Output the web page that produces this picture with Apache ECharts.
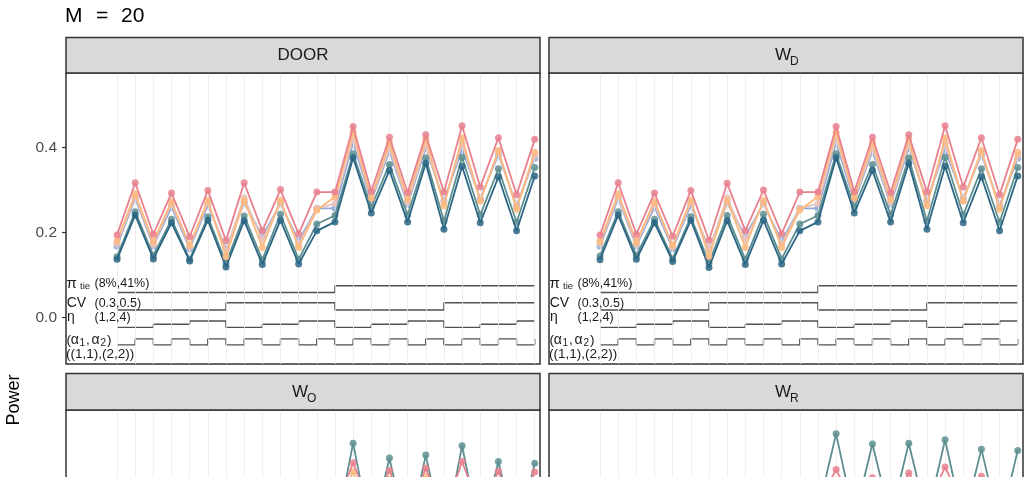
<!DOCTYPE html>
<html>
<head>
<meta charset="utf-8">
<script src="https://cdn.jsdelivr.net/npm/echarts@6/dist/echarts.min.js"></script>
<style>
  html, body { margin: 0; padding: 0; background: #fff; }
  #chart { width: 1032px; height: 477px; }
</style>
</head>
<body>
<div id="chart"></div>
<script>
// x positions of the 24 scenarios
const positions = [1, 2, 3, 4, 5, 6, 7, 8, 9, 10, 11, 12, 13, 14, 15, 16, 17, 18, 19, 20, 21, 22, 23, 24];

// DOOR
const doorPink   = [0.194, 0.317, 0.196, 0.293, 0.190, 0.299, 0.181, 0.317, 0.204, 0.301, 0.197, 0.295, 0.295, 0.449, 0.297, 0.424, 0.294, 0.430, 0.295, 0.451, 0.307, 0.423, 0.289, 0.419];
const doorOrange = [0.180, 0.291, 0.178, 0.273, 0.170, 0.276, 0.143, 0.276, 0.165, 0.276, 0.165, 0.253, 0.284, 0.436, 0.281, 0.411, 0.278, 0.420, 0.263, 0.422, 0.274, 0.393, 0.255, 0.389];
const doorBeige  = [0.174, 0.285, 0.172, 0.268, 0.166, 0.270, 0.159, 0.282, 0.183, 0.270, 0.172, 0.257, 0.268, 0.422, 0.279, 0.398, 0.271, 0.405, 0.270, 0.409, 0.275, 0.389, 0.260, 0.381];
const doorLav    = [0.168, 0.280, 0.168, 0.260, 0.162, 0.264, 0.163, 0.270, 0.192, 0.268, 0.180, 0.257, 0.257, 0.411, 0.274, 0.391, 0.266, 0.398, 0.275, 0.395, 0.280, 0.383, 0.264, 0.374];
const doorTeal   = [0.143, 0.249, 0.146, 0.231, 0.137, 0.237, 0.128, 0.239, 0.136, 0.243, 0.137, 0.220, 0.240, 0.385, 0.260, 0.360, 0.241, 0.375, 0.227, 0.377, 0.241, 0.350, 0.224, 0.353];
const doorDark   = [0.137, 0.241, 0.138, 0.223, 0.133, 0.229, 0.119, 0.228, 0.125, 0.229, 0.126, 0.204, 0.225, 0.376, 0.246, 0.346, 0.225, 0.363, 0.208, 0.356, 0.223, 0.331, 0.204, 0.333];

// W_D
const wdPink   = [0.194, 0.317, 0.196, 0.293, 0.191, 0.299, 0.182, 0.316, 0.204, 0.300, 0.197, 0.295, 0.295, 0.449, 0.296, 0.424, 0.294, 0.430, 0.295, 0.451, 0.307, 0.423, 0.289, 0.419];
const wdOrange = [0.180, 0.291, 0.178, 0.273, 0.170, 0.276, 0.144, 0.276, 0.165, 0.276, 0.165, 0.253, 0.284, 0.436, 0.281, 0.411, 0.278, 0.420, 0.263, 0.422, 0.274, 0.393, 0.255, 0.389];
const wdBeige  = [0.174, 0.285, 0.172, 0.268, 0.166, 0.270, 0.160, 0.282, 0.183, 0.270, 0.172, 0.257, 0.268, 0.422, 0.279, 0.398, 0.271, 0.405, 0.270, 0.409, 0.275, 0.389, 0.260, 0.381];
const wdLav    = [0.168, 0.280, 0.168, 0.260, 0.162, 0.264, 0.163, 0.270, 0.192, 0.268, 0.180, 0.257, 0.257, 0.411, 0.274, 0.391, 0.266, 0.398, 0.275, 0.395, 0.280, 0.383, 0.264, 0.374];
const wdTeal   = [0.145, 0.249, 0.146, 0.231, 0.138, 0.237, 0.128, 0.240, 0.137, 0.243, 0.138, 0.220, 0.240, 0.385, 0.260, 0.360, 0.242, 0.375, 0.227, 0.377, 0.241, 0.350, 0.224, 0.353];
const wdDark   = [0.136, 0.241, 0.137, 0.223, 0.132, 0.229, 0.118, 0.228, 0.125, 0.229, 0.126, 0.204, 0.225, 0.376, 0.246, 0.346, 0.225, 0.363, 0.208, 0.356, 0.223, 0.331, 0.204, 0.333];

// W_O (lower part is outside the picture, estimated)
const woPink   = [0.19, 0.29, 0.19, 0.27, 0.18, 0.28, 0.17, 0.29, 0.19, 0.28, 0.19, 0.27, 0.34, 0.451, 0.34, 0.433, 0.33, 0.438, 0.33, 0.454, 0.34, 0.431, 0.33, 0.429];
const woOrange = [0.17, 0.27, 0.17, 0.25, 0.16, 0.26, 0.15, 0.26, 0.17, 0.26, 0.17, 0.25, 0.32, 0.430, 0.32, 0.412, 0.31, 0.419, 0.31, 0.410, 0.32, 0.405, 0.31, 0.402];
const woBeige  = [0.16, 0.26, 0.16, 0.24, 0.15, 0.25, 0.15, 0.25, 0.17, 0.25, 0.16, 0.24, 0.30, 0.405, 0.30, 0.390, 0.29, 0.395, 0.29, 0.400, 0.30, 0.385, 0.29, 0.380];
const woLav    = [0.15, 0.25, 0.15, 0.23, 0.15, 0.24, 0.15, 0.24, 0.17, 0.24, 0.16, 0.23, 0.29, 0.390, 0.29, 0.375, 0.28, 0.380, 0.28, 0.385, 0.29, 0.370, 0.28, 0.365];
const woTeal   = [0.20, 0.30, 0.20, 0.28, 0.19, 0.29, 0.18, 0.30, 0.19, 0.29, 0.19, 0.28, 0.28, 0.497, 0.28, 0.462, 0.27, 0.469, 0.27, 0.491, 0.28, 0.454, 0.27, 0.450];
const woDark   = [0.13, 0.23, 0.13, 0.21, 0.13, 0.22, 0.11, 0.22, 0.12, 0.22, 0.12, 0.20, 0.22, 0.360, 0.24, 0.340, 0.22, 0.350, 0.20, 0.345, 0.22, 0.320, 0.20, 0.320];

// W_R (lower part is outside the picture, estimated)
const wrPink   = [0.19, 0.29, 0.19, 0.27, 0.18, 0.28, 0.17, 0.29, 0.19, 0.28, 0.19, 0.27, 0.355, 0.435, 0.35, 0.416, 0.35, 0.427, 0.35, 0.441, 0.35, 0.419, 0.34, 0.405];
const wrOrange = [0.17, 0.27, 0.17, 0.25, 0.16, 0.26, 0.15, 0.26, 0.17, 0.26, 0.17, 0.25, 0.33, 0.410, 0.33, 0.400, 0.32, 0.405, 0.32, 0.410, 0.33, 0.395, 0.32, 0.390];
const wrBeige  = [0.16, 0.26, 0.16, 0.24, 0.15, 0.25, 0.15, 0.25, 0.17, 0.25, 0.16, 0.24, 0.31, 0.395, 0.31, 0.385, 0.30, 0.390, 0.30, 0.395, 0.31, 0.380, 0.30, 0.375];
const wrLav    = [0.15, 0.25, 0.15, 0.23, 0.15, 0.24, 0.15, 0.24, 0.17, 0.24, 0.16, 0.23, 0.30, 0.385, 0.30, 0.370, 0.29, 0.375, 0.29, 0.380, 0.30, 0.365, 0.29, 0.360];
const wrTeal   = [0.21, 0.31, 0.21, 0.29, 0.20, 0.30, 0.19, 0.31, 0.20, 0.30, 0.20, 0.29, 0.338, 0.519, 0.32, 0.495, 0.32, 0.497, 0.32, 0.505, 0.31, 0.483, 0.30, 0.480];
const wrDark   = [0.13, 0.23, 0.13, 0.21, 0.13, 0.22, 0.11, 0.22, 0.12, 0.22, 0.12, 0.20, 0.23, 0.365, 0.25, 0.345, 0.23, 0.355, 0.21, 0.350, 0.23, 0.325, 0.21, 0.325];

// factor level step lines drawn under the curves
const stepPiTie = [0.059, 0.059, 0.059, 0.059, 0.059, 0.059, 0.059, 0.059, 0.059, 0.059, 0.059, 0.059, 0.075, 0.075, 0.075, 0.075, 0.075, 0.075, 0.075, 0.075, 0.075, 0.075, 0.075, 0.075];
const stepCV    = [0.018, 0.018, 0.018, 0.018, 0.018, 0.018, 0.035, 0.035, 0.035, 0.035, 0.035, 0.035, 0.018, 0.018, 0.018, 0.018, 0.018, 0.018, 0.035, 0.035, 0.035, 0.035, 0.035, 0.035];
const stepEta   = [-0.023, -0.023, -0.0155, -0.0155, -0.008, -0.008, -0.023, -0.023, -0.0155, -0.0155, -0.008, -0.008, -0.023, -0.023, -0.0155, -0.0155, -0.008, -0.008, -0.023, -0.023, -0.0155, -0.0155, -0.008, -0.008];
const stepAlpha = [-0.064, -0.050, -0.064, -0.050, -0.064, -0.050, -0.064, -0.050, -0.064, -0.050, -0.064, -0.050, -0.064, -0.050, -0.064, -0.050, -0.064, -0.050, -0.064, -0.050, -0.064, -0.050, -0.064, -0.050];

const yTicks = [0, 0.2, 0.4];
const colors = ["#E8808E", "#FDB87E", "#E6C3BB", "#92A9DC", "#5D8E90", "#2B6685"];
const seriesNames = ["p", "o", "b", "l", "t", "d"];
const seriesZ = [9, 8, 5, 4, 6, 7];

const panels = [
  { main: "DOOR", sub: "", left: 66, top: 73, data: [doorPink, doorOrange, doorBeige, doorLav, doorTeal, doorDark] },
  { main: "W", sub: "D", left: 549, top: 73, data: [wdPink, wdOrange, wdBeige, wdLav, wdTeal, wdDark] },
  { main: "W", sub: "O", left: 66, top: 410, data: [woPink, woOrange, woBeige, woLav, woTeal, woDark] },
  { main: "W", sub: "R", left: 549, top: 410, data: [wrPink, wrOrange, wrBeige, wrLav, wrTeal, wrDark] },
];
const PW = 474, PH = 291;
const FONT = "Liberation Sans, Arial, sans-serif";

let chart = echarts.init(document.getElementById("chart"), null, { renderer: "canvas" });

const grid = [], xAxis = [], yAxis = [], series = [], graphic = [];

function txt(x, y, text, size, extra) {
  return { type: "text", z: 12,
    style: Object.assign({ x: x, y: y, text: text, font: size + "px " + FONT, fill: "#1A1A1A", textVerticalAlign: "middle" }, extra || {}) };
}

graphic.push(txt(65, 16, "M", 21, { fill: "#000" }));
graphic.push(txt(96, 16, "=", 21, { fill: "#000" }));
graphic.push(txt(121, 16, "20", 21, { fill: "#000" }));
graphic.push({ type: "text", x: 14, y: 400, rotation: Math.PI / 2,
  style: { x: 0, y: 0, text: "Power", font: "18px " + FONT, fill: "#000", textAlign: "center", textVerticalAlign: "middle" } });

panels.forEach((p, i) => {
  grid.push({ left: p.left, top: p.top, width: PW, height: PH, outerBoundsMode: "none", containLabel: false,
    show: true, borderColor: "#333", borderWidth: 1.5, backgroundColor: "#fff" });
  xAxis.push({ gridIndex: i, type: "value", min: -1.81, max: 24.29, show: false });
  yAxis.push({
    gridIndex: i, type: "value", min: -0.109, max: 0.575,
    axisLine: { show: false, onZero: false },
    splitLine: { show: false },
    axisTick: { show: i === 0, length: 4, customValues: yTicks, lineStyle: { color: "#333", width: 1.2 } },
    axisLabel: { show: i === 0, customValues: yTicks, margin: 9, color: "#4D4D4D", fontSize: 15.5, fontFamily: FONT,
      formatter: (v) => v.toFixed(1) },
  });

  // vertical light grid at each scenario
  series.push({
    type: "line", xAxisIndex: i, yAxisIndex: i, z: 0, silent: true, symbol: "none",
    data: positions.map((x) => [x, 0]), lineStyle: { opacity: 0 },
    markLine: { silent: true, symbol: "none", label: { show: false },
      lineStyle: { color: "#EBEBEB", width: 0.8, type: "solid" },
      data: positions.map((x) => ({ xAxis: x })) },
  });

  [stepPiTie, stepCV, stepEta, stepAlpha].forEach((s) => {
    series.push({
      type: "line", xAxisIndex: i, yAxisIndex: i, z: 1, silent: true, symbol: "none", step: "end",
      data: positions.map((x, k) => [x, s[k]]),
      lineStyle: { color: "#505050", width: 1.4 },
    });
  });

  p.data.forEach((vals, s) => {
    series.push({
      name: seriesNames[s], type: "line", xAxisIndex: i, yAxisIndex: i, z: seriesZ[s],
      data: positions.map((x, k) => [x, vals[k]]),
      symbol: "circle", symbolSize: 7,
      lineStyle: { color: colors[s], width: 1.8 },
      itemStyle: { color: colors[s], opacity: 0.85 },
      emphasis: { disabled: true },
    });
  });

  // strip
  const stripTop = i < 2 ? 37.5 : 373.5;
  graphic.push({ type: "rect", shape: { x: p.left, y: stripTop, width: PW, height: p.top - stripTop },
    style: { fill: "#D9D9D9", stroke: "#333", lineWidth: 1.5 }, z: 10 });
  const cx = p.left + PW / 2, cy = (stripTop + p.top) / 2;
  if (p.sub) {
    graphic.push(txt(cx + 5, cy + 0.5, p.main, 17, { textAlign: "right" }));
    graphic.push(txt(cx + 4, cy + 6.5, p.sub, 12));
  } else {
    graphic.push(txt(cx, cy + 0.5, p.main, 17, { textAlign: "center" }));
  }

  // factor annotations
  const ax = p.left, ay = p.top;
  const ann = [
    [0.5, 210.8, "π", 15], [14, 213.8, "tie", 9.5], [28.5, 210.6, "(8%,41%)", 12.5],
    [0.7, 230.3, "CV", 14], [28.5, 230.6, "(0.3,0.5)", 12.5],
    [1, 244.2, "η", 14], [28.5, 244.6, "(1,2,4)", 12.5],
    [0.5, 267, "(", 13.5], [4.8, 267.5, "α", 14], [13.5, 270, "1", 10], [20, 267, ",", 13.5],
    [25.5, 267.5, "α", 14], [34.5, 270, "2", 10], [41, 267, ")", 13.5],
    [0, 280.8, "((1,1),(2,2))", 13.5],
  ];
  ann.forEach((a) => graphic.push(txt(ax + a[0], ay + a[1], a[2], a[3])));
});

const option = { animation: false, backgroundColor: "#fff", grid, xAxis, yAxis, series, graphic };
chart.setOption(option);
</script>
</body>
</html>
